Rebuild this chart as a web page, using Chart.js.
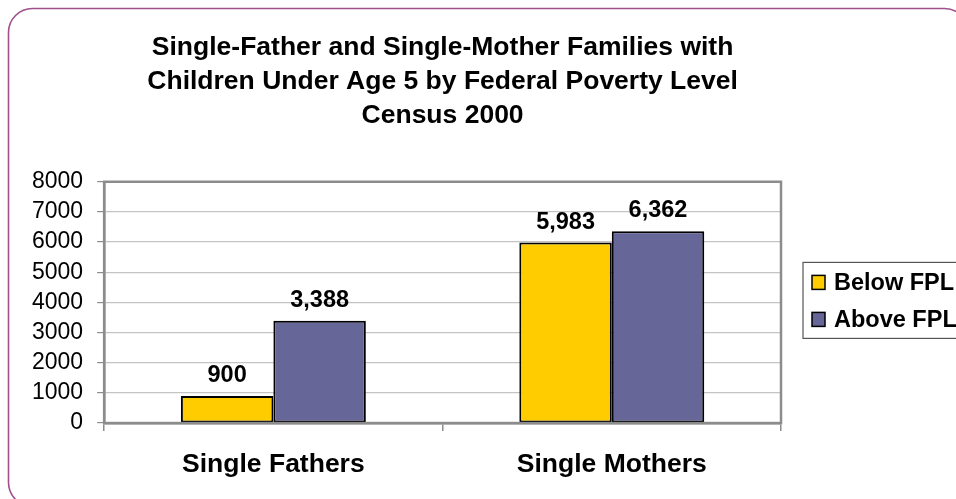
<!DOCTYPE html>
<html>
<head>
<meta charset="utf-8">
<title>Single-Father and Single-Mother Families</title>
<script src="https://cdn.jsdelivr.net/npm/chart.js@4.4.1/dist/chart.umd.min.js"></script>
<style>
  html, body { margin: 0; padding: 0; background: #fff; }
  #wrap { width: 956px; height: 499px; }
</style>
</head>
<body>
<div id="wrap"><canvas id="barChart" width="956" height="499"></canvas></div>
<script>
const categories = ["Single Fathers", "Single Mothers"];
const seriesNames = ["Below FPL", "Above FPL"];
const belowFPL = [900, 5983];
const aboveFPL = [3388, 6362];
const yTicks = [0, 1000, 2000, 3000, 4000, 5000, 6000, 7000, 8000];
const titleLines = [
  "Single-Father and Single-Mother Families with",
  "Children Under Age 5 by Federal Poverty Level",
  "Census 2000"
];

const FONT = "Arial, 'Liberation Sans', sans-serif";
const GRID_GRAY = "#c4c4c4";
const FRAME_GRAY = "#8c8c8c";

// rounded outline around the whole picture
const outline = {
  id: "outline",
  beforeDraw(chart) {
    const ctx = chart.ctx;
    ctx.save();
    ctx.strokeStyle = "#a0508a";
    ctx.lineWidth = 1.6;
    ctx.beginPath();
    ctx.roundRect(8.5, 8.5, 960, 498, 24);
    ctx.stroke();
    ctx.restore();
  }
};

// grey frame round the plot area
const plotFrame = {
  id: "plotFrame",
  afterDraw(chart) {
    const a = chart.chartArea;
    const ctx = chart.ctx;
    ctx.save();
    ctx.strokeStyle = FRAME_GRAY;
    ctx.lineWidth = 2.5;
    ctx.strokeRect(a.left, a.top, a.right - a.left, a.bottom - a.top);
    ctx.restore();
  }
};

// value labels over the bars
const valueLabels = {
  id: "valueLabels",
  afterDatasetsDraw(chart) {
    const ctx = chart.ctx;
    ctx.save();
    ctx.font = "bold 23.5px " + FONT;
    ctx.fillStyle = "#000";
    ctx.textAlign = "center";
    ctx.textBaseline = "alphabetic";
    chart.data.datasets.forEach((ds, i) => {
      chart.getDatasetMeta(i).data.forEach((bar, j) => {
        ctx.fillText(ds.data[j].toLocaleString("en-US"), bar.x, bar.y - 14);
      });
    });
    ctx.restore();
  }
};

// boxed legend to the right of the plot
const boxLegend = {
  id: "boxLegend",
  afterDraw(chart) {
    const a = chart.chartArea;
    const ctx = chart.ctx;
    const left = a.right + 22;
    const midY = (a.top + a.bottom) / 2;
    const rowGap = 37;
    const top = midY - 40;
    ctx.save();
    ctx.strokeStyle = "#555";
    ctx.lineWidth = 1.2;
    ctx.strokeRect(left, top, 175, 76);
    ctx.font = "bold 23.5px " + FONT;
    ctx.textBaseline = "middle";
    chart.data.datasets.forEach((ds, i) => {
      const cy = top + 20 + i * rowGap;
      ctx.fillStyle = ds.backgroundColor;
      ctx.fillRect(left + 9, cy - 7, 13, 14);
      ctx.strokeStyle = "#000";
      ctx.lineWidth = 1.5;
      ctx.strokeRect(left + 9, cy - 7, 13, 14);
      ctx.fillStyle = "#000";
      ctx.fillText(ds.label, left + 31, cy + 1);
    });
    ctx.restore();
  }
};

const CHART = document.getElementById("barChart");
let barChart = new Chart(CHART, {
  type: "bar",
  data: {
    labels: categories,
    datasets: [
      {
        label: seriesNames[0],
        data: belowFPL,
        backgroundColor: "#ffcc00",
        borderColor: "#000",
        borderWidth: 2,
        borderSkipped: false
      },
      {
        label: seriesNames[1],
        data: aboveFPL,
        backgroundColor: "#666699",
        borderColor: "#000",
        borderWidth: 2,
        borderSkipped: false
      }
    ]
  },
  options: {
    responsive: false,
    animation: false,
    devicePixelRatio: 1,
    categoryPercentage: 0.5465,
    barPercentage: 1,
    layout: {
      padding: { left: 18, right: 175, top: 0, bottom: 0 }
    },
    plugins: {
      legend: { display: false },
      tooltip: { enabled: false },
      title: {
        display: true,
        fullSize: false,
        text: titleLines,
        color: "#000",
        font: { family: FONT, size: 26.5, weight: "bold", lineHeight: 1.28 },
        padding: { top: 31, bottom: 49 }
      }
    },
    scales: {
      x: {
        grid: {
          drawOnChartArea: false,
          drawTicks: true,
          tickLength: 8,
          tickColor: FRAME_GRAY,
          lineWidth: 1.5
        },
        border: { display: true, color: FRAME_GRAY, width: 2.5 },
        ticks: {
          color: "#000",
          padding: 19.4,
          font: { family: FONT, size: 26.5, weight: "bold", lineHeight: 1.1 }
        }
      },
      y: {
        min: yTicks[0],
        max: yTicks[yTicks.length - 1],
        afterBuildTicks(scale) {
          scale.ticks = yTicks.map(v => ({ value: v }));
        },
        grid: {
          color: GRID_GRAY,
          lineWidth: 1.2,
          tickLength: 7,
          tickColor: FRAME_GRAY
        },
        border: { display: true, color: FRAME_GRAY, width: 2.5 },
        ticks: {
          color: "#000",
          padding: 14,
          autoSkip: false,
          font: { family: FONT, size: 23 },
          callback: v => String(v)
        }
      }
    }
  },
  plugins: [outline, plotFrame, valueLabels, boxLegend]
});
</script>
</body>
</html>
